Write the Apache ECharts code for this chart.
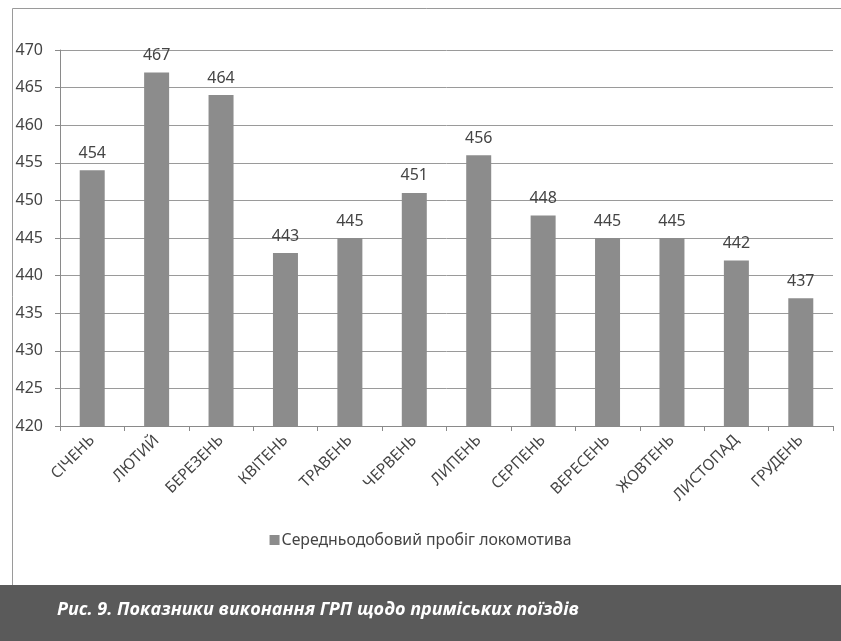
<!DOCTYPE html>
<html><head><meta charset="utf-8">
<script src="https://cdn.jsdelivr.net/npm/echarts@6/dist/echarts.min.js"></script>
<style>html,body{margin:0;padding:0;background:#fff}#c{width:841px;height:641px}</style>
</head><body><div id="c"></div>
<script>
const months = ['СІЧЕНЬ','ЛЮТИЙ','БЕРЕЗЕНЬ','КВІТЕНЬ','ТРАВЕНЬ','ЧЕРВЕНЬ','ЛИПЕНЬ','СЕРПЕНЬ','ВЕРЕСЕНЬ','ЖОВТЕНЬ','ЛИСТОПАД','ГРУДЕНЬ'];
const mileage = [454, 467, 464, 443, 445, 451, 456, 448, 445, 445, 442, 437];
const seriesName = 'Середньодобовий пробіг локомотива';
const caption = 'Рис. 9. Показники виконання ГРП щодо приміських поїздів';

const chart = echarts.init(document.getElementById('c'), null, {renderer:'canvas'});
chart.setOption({
  backgroundColor: '#ffffff',
  animation: false,
  graphic: [
    {type:'rect', shape:{x:0,y:585,width:841,height:56}, style:{fill:'#5a5a5a'}, z:-1},
    {type:'polyline', shape:{points:[[12.5,585],[12.5,8.5],[841,8.5]]}, style:{stroke:'#9a9a9a', lineWidth:1, fill:null}},
    {type:'text', left:57, top:601, style:{text:caption, fill:'#ffffff', font:'italic bold 18px "Open Sans"'}}
  ],
  legend: {
    data:[seriesName], bottom: 88, left:'center',
    icon:'rect', itemWidth:10, itemHeight:10, itemGap:2,
    textStyle:{color:'#444', fontSize:15.8, fontFamily:'Noto Sans', padding:[0,0,0,-3]}
  },
  grid: {left:60, right:8, top:50, bottom:215, containLabel:false},
  xAxis: {
    type:'category', data: months,
    axisLine:{lineStyle:{color:'#8a8a8a'}},
    axisTick:{show:true, length:5, lineStyle:{color:'#8a8a8a'}},
    axisLabel:{rotate:45, color:'#444', fontSize:15.5, fontFamily:'Noto Sans', margin:12, interval:0}
  },
  yAxis: {
    type:'value', min:420, max:470, interval:5,
    axisLine:{show:true, lineStyle:{color:'#8a8a8a'}},
    axisTick:{show:true, length:5, lineStyle:{color:'#8a8a8a'}},
    axisLabel:{color:'#444', fontSize:16, fontFamily:'Noto Sans', margin:17},
    splitLine:{lineStyle:{color:'#9a9a9a'}}
  },
  series: [{
    name: seriesName, type:'bar', data: mileage, barWidth:25,
    itemStyle:{color:'#8c8c8c'},
    label:{show:true, position:'top', color:'#444', fontSize:16, fontFamily:'Noto Sans', distance:9}
  }]
});
</script></body></html>
